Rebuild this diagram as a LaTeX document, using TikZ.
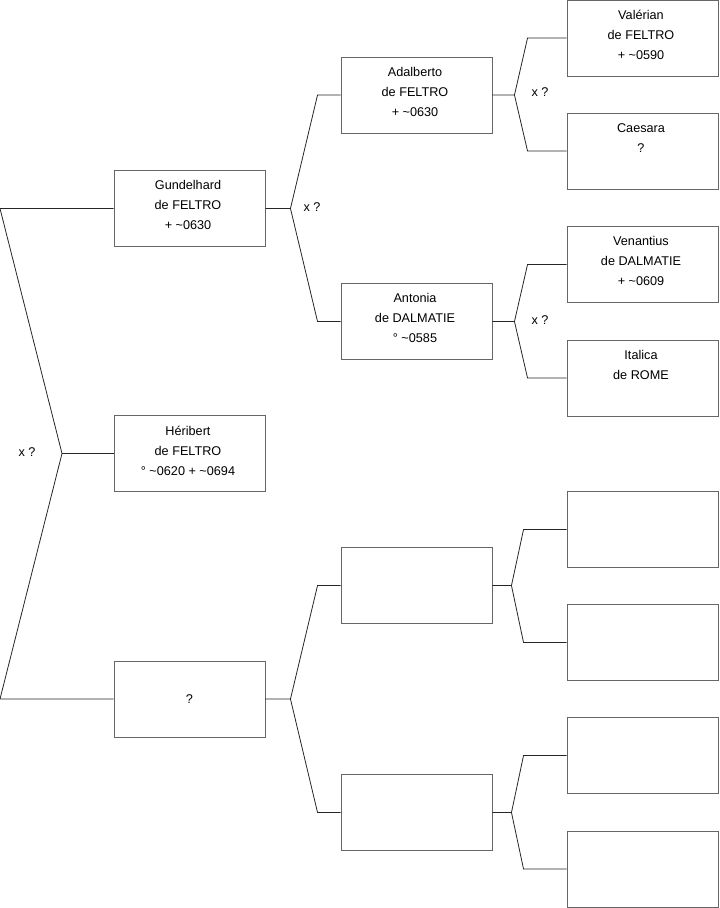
\documentclass[tikz,border=0pt]{standalone}
\usepackage{fontspec}
\setmainfont{Liberation Sans}
\usetikzlibrary{calc}

\tikzset{
  person/.style={draw=black!60, line width=0.7pt, minimum width=113.25pt,
                 minimum height=57pt, inner sep=0pt},
  persontext/.style={anchor=north, align=center, inner sep=0pt,
                     font=\fontsize{9.5pt}{15pt}\selectfont},
  link/.style={black!85, line width=0.6pt},
  union/.style={font=\fontsize{9.5pt}{15pt}\selectfont, inner sep=0pt},
}

\begin{document}
\begin{tikzpicture}[x=0.75pt, y=-0.75pt]
  \useasboundingbox (0,0) rectangle (719,908);

  % --- Generation 1 ---
  \node[person] (gund) at (189.5,208.5) {};
  \node[person] (heri) at (189.5,453.5) {};
  \node[person] (unk)  at (189.5,699)   {\fontsize{9.5pt}{15pt}\selectfont ?};

  % --- Generation 2 ---
  \node[person] (adal) at (416.5,95)    {};
  \node[person] (anto) at (416.5,321.5) {};
  \node[person] (m1)   at (416.5,585.5) {};
  \node[person] (m2)   at (416.5,812.5) {};

  % --- Generation 3 ---
  \node[person] (vale) at (642.5,38)    {};
  \node[person] (caes) at (642.5,151)   {};
  \node[person] (vena) at (642.5,264.5) {};
  \node[person] (ital) at (642.5,378)   {};
  \node[person] (p1)   at (642.5,529.5) {};
  \node[person] (p2)   at (642.5,642.5) {};
  \node[person] (p3)   at (642.5,755.5) {};
  \node[person] (p4)   at (642.5,869)   {};

  % --- Names ---
  \node[persontext] (gund-t) at ($(gund.north)+(-1.5,10.5)$) {Gundelhard\\de FELTRO\\+ \textasciitilde0630};
  \node[persontext] (heri-t) at ($(heri.north)+(-1.5,10.5)$) {Héribert\\de FELTRO\\° \textasciitilde0620 + \textasciitilde0694};
  \node[persontext] (adal-t) at ($(adal.north)+(-1.5,10.5)$) {Adalberto\\de FELTRO\\+ \textasciitilde0630};
  \node[persontext] (anto-t) at ($(anto.north)+(-1.5,10.5)$) {Antonia\\de DALMATIE\\° \textasciitilde0585};
  \node[persontext] (vale-t) at ($(vale.north)+(-1.5,10.5)$) {Valérian\\de FELTRO\\+ \textasciitilde0590};
  \node[persontext] (caes-t) at ($(caes.north)+(-1.5,10.5)$) {Caesara\\?};
  \node[persontext] (vena-t) at ($(vena.north)+(-1.5,10.5)$) {Venantius\\de DALMATIE\\+ \textasciitilde0609};
  \node[persontext] (ital-t) at ($(ital.north)+(-1.5,10.5)$) {Italica\\de ROME};

  % --- Root fork ---
  \coordinate (L)  at (0,0);
  \coordinate (j0) at (62,453.5);
  \draw[link] (gund.west) -- (gund.west -| L) -- (j0) -- (unk.west -| L) -- (unk.west);
  \draw[link] (j0) -- (heri.west);
  \node[union] (u0) at (27,452) {x ?};

  % --- Forks generation 1 -> 2 ---
  \draw[link] (gund.east) -- ++(25,0) coordinate (j1) -- ($(adal.west)+(-23,0)$) -- (adal.west);
  \draw[link] (j1) -- ($(anto.west)+(-23,0)$) -- (anto.west);
  \node[union] (u1) at (312,207) {x ?};

  \draw[link] (unk.east) -- ++(25,0) coordinate (j3) -- ($(m1.west)+(-23,0)$) -- (m1.west);
  \draw[link] (j3) -- ($(m2.west)+(-23,0)$) -- (m2.west);

  % --- Forks generation 2 -> 3 ---
  \draw[link] (adal.east) -- ++(22,0) coordinate (j2) -- ($(vale.west)+(-39,0)$) -- (vale.west);
  \draw[link] (j2) -- ($(caes.west)+(-39,0)$) -- (caes.west);
  \node[union] (u2) at (540,92) {x ?};

  \draw[link] (anto.east) -- ++(22,0) coordinate (j4) -- ($(vena.west)+(-39,0)$) -- (vena.west);
  \draw[link] (j4) -- ($(ital.west)+(-39,0)$) -- (ital.west);
  \node[union] (u4) at (540,320) {x ?};

  \draw[link] (m1.east) -- ++(19,0) coordinate (j5) -- ($(p1.west)+(-43,0)$) -- (p1.west);
  \draw[link] (j5) -- ($(p2.west)+(-43,0)$) -- (p2.west);

  \draw[link] (m2.east) -- ++(19,0) coordinate (j6) -- ($(p3.west)+(-43,0)$) -- (p3.west);
  \draw[link] (j6) -- ($(p4.west)+(-43,0)$) -- (p4.west);

\end{tikzpicture}
\end{document}
